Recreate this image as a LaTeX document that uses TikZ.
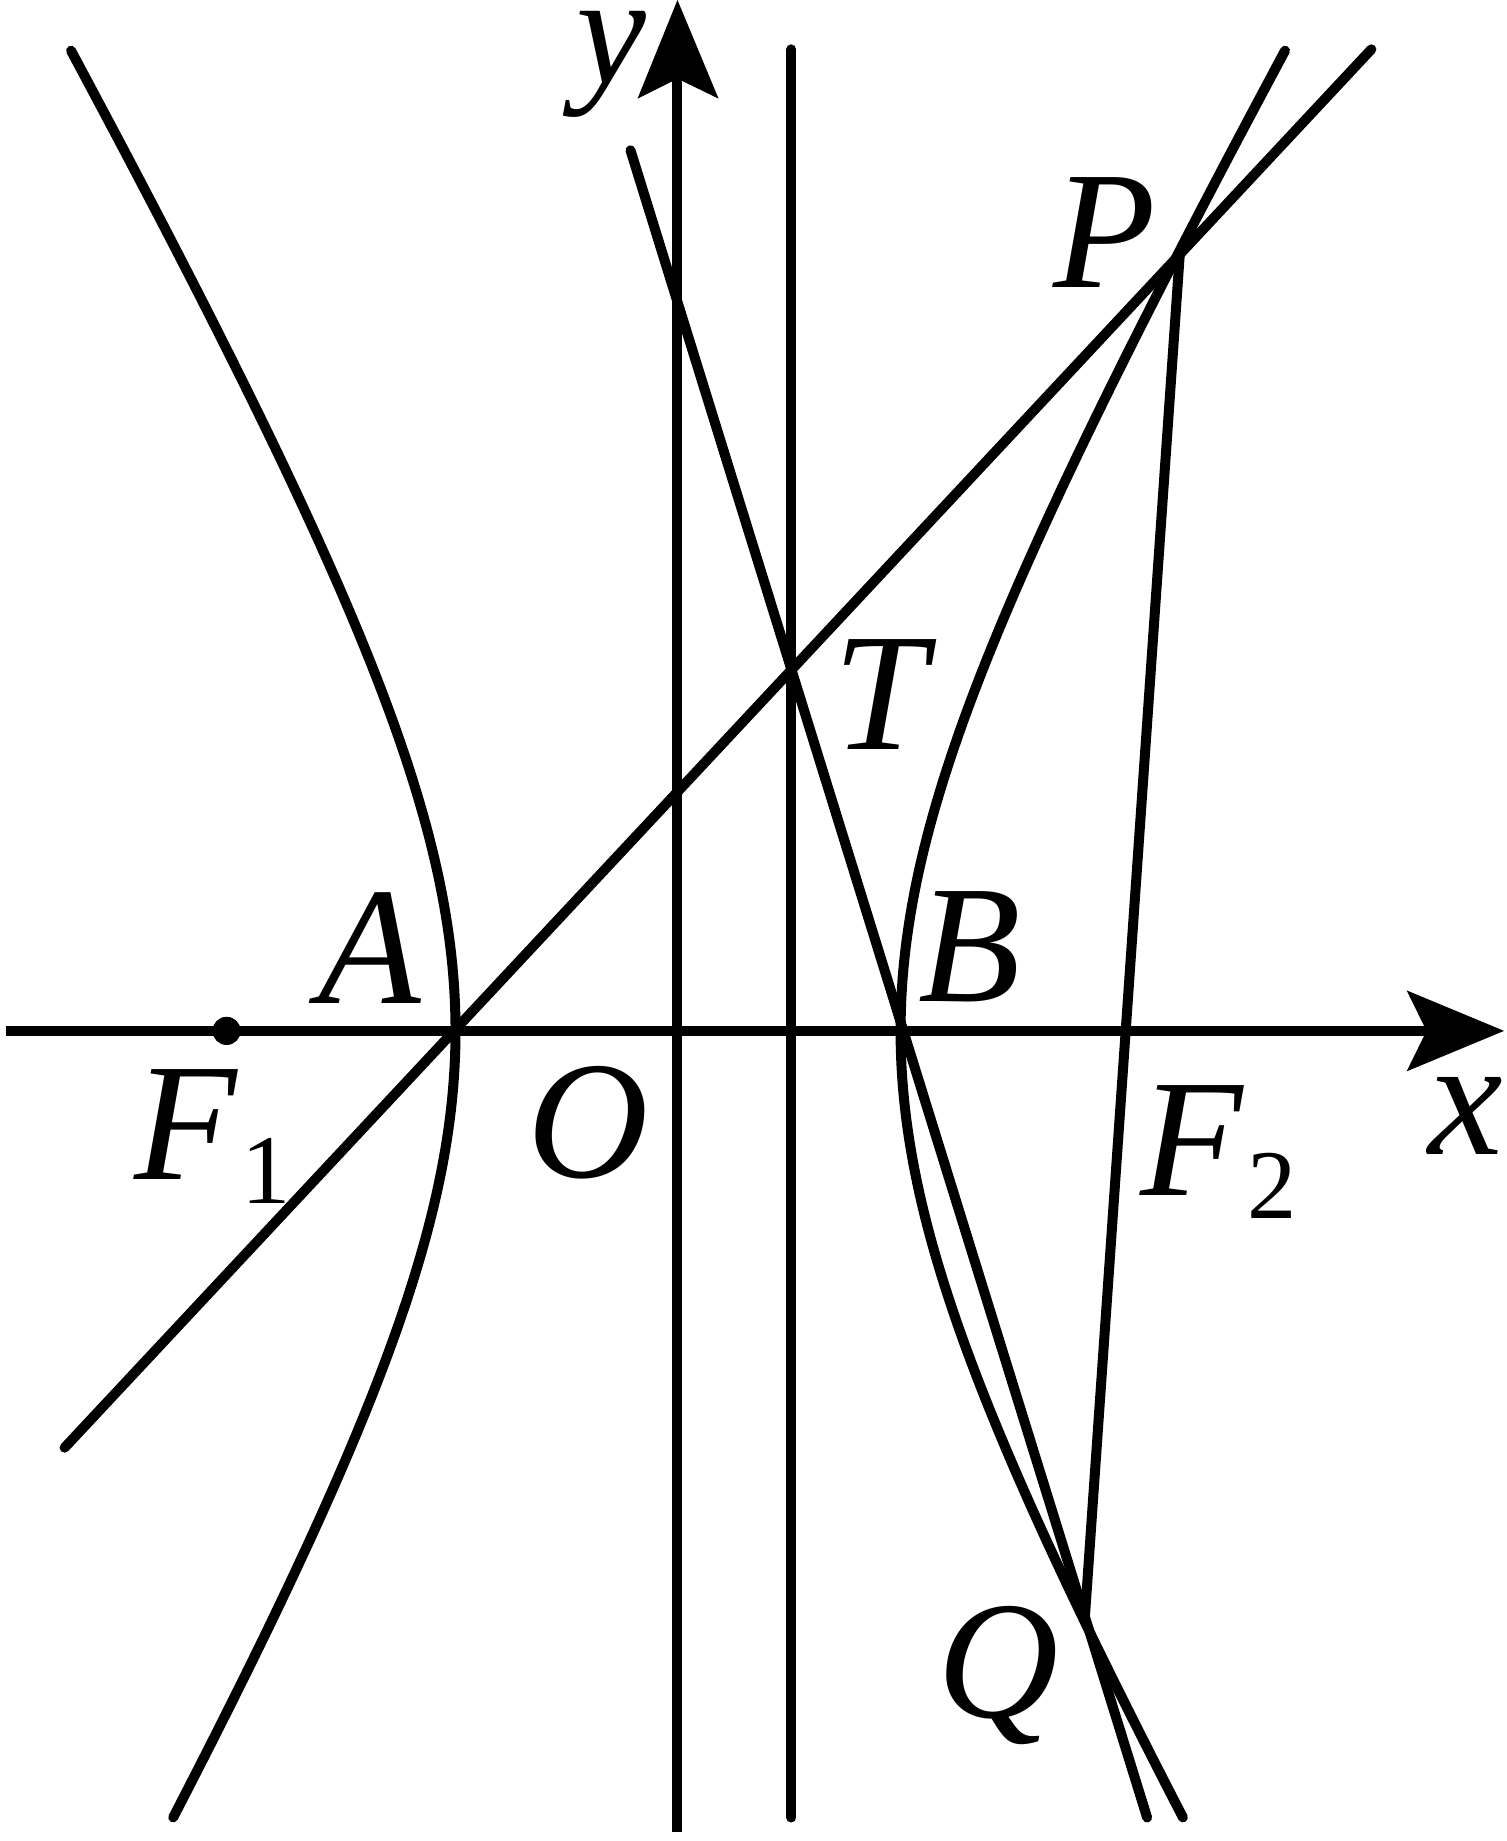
\documentclass[tikz,border=0pt]{standalone}
\usepackage{fontspec}
\setmainfont{Liberation Serif}
\newcommand{\subn}[1]{\kern4pt\raisebox{-20pt}{\fontsize{84}{84}\selectfont #1}}
\begin{document}
\begin{tikzpicture}[x=1pt,y=-1pt,
  curve/.style={line width=8.5pt,line cap=round},
  axisline/.style={line width=8.5pt},
  lab/.style={inner sep=0pt,anchor=base,font=\fontsize{143}{143}\selectfont\itshape},
  labw/.style={inner sep=0pt,anchor=base west,font=\fontsize{143}{143}\selectfont\itshape}]
\useasboundingbox (0,0) rectangle (1283,1568);
% key points
\coordinate (O) at (577.5,878);
\coordinate (A) at (388,878);
\coordinate (B) at (767,878);
\coordinate (T) at (674,572);
\coordinate (P) at (1005,214);
\coordinate (Q) at (924,1377);
\coordinate (F1) at (193,878);
\coordinate (F2) at (958,878);
\coordinate (xs) at (5,878);
\coordinate (xe) at (1215,878);
\coordinate (ys) at (577,1560);
\coordinate (ye) at (577,67);
\coordinate (vt) at (674,42);
\coordinate (vb) at (674,1548);
\coordinate (la) at (55,1233);
\coordinate (lb) at (1168,42);
\coordinate (ta) at (537,128);
\coordinate (tb) at (977,1548);
% axes
\draw[axisline] (xs) -- (xe);
\draw[axisline] (ys) -- (ye);
\fill (1281,878) -- (1198,843.5) -- (xe) -- (1198,912.5) -- cycle;
\fill (577,0) -- (543,84) -- (ye) -- (612,84) -- cycle;
% vertical line
\draw[curve] (vt) -- (vb);
% hyperbola branches
\draw[curve] plot[domain=-1.460:1.6626,samples=120,variable=\t]
  ({577.5+189.5*cosh(\t)},{878-328.9*sinh(\t)});
\draw[curve] plot[domain=-1.460:1.6626,samples=120,variable=\t]
  ({577.5-189.5*cosh(\t)},{878-328.9*sinh(\t)});
% lines
\draw[curve] (la) -- (lb);
\draw[curve] (ta) -- (tb);
\draw[curve] (P) -- (Q);
% focus dot
\fill (F1) circle (12);
% labels
\node[lab,font=\fontsize{134}{134}\selectfont\itshape] (ylab) at (521,71) {y};
\node[lab] (xlab) at (1248,983) {x};
\node[lab] (Plab) at (941,245) {P};
\node[lab] (Tlab) at (750,638) {T};
\node[lab] (Blab) at (826,853) {B};
\node[lab] (Alab) at (315,855) {A};
\node[lab] (Olab) at (501,1003) {O};
\node[lab] (Qlab) at (850,1463) {Q};
\node[labw] (F1lab) at (114,1005) {F\upshape\subn{1}};
\node[labw] (F2lab) at (971,1018) {F\upshape\subn{2}};
\end{tikzpicture}
\end{document}
